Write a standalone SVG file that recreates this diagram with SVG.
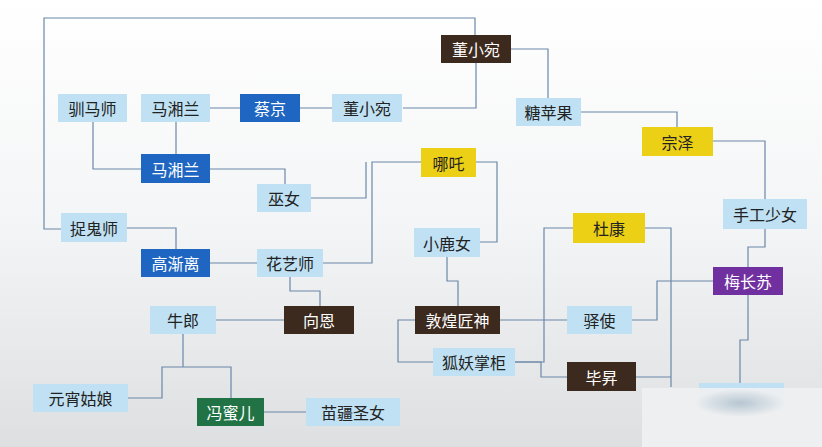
<svg xmlns="http://www.w3.org/2000/svg" width="822" height="447" viewBox="0 0 822 447">
<defs>
<linearGradient id="bg" x1="0" y1="0" x2="0" y2="1"><stop offset="0" stop-color="#ffffff"/><stop offset="0.5" stop-color="#f4f5f6"/><stop offset="1" stop-color="#dedfe0"/></linearGradient>
<radialGradient id="wm" cx="0.5" cy="0.5" r="0.5"><stop offset="0" stop-color="#eeeff0"/><stop offset="0.7" stop-color="#eeeff0" stop-opacity="0.9"/><stop offset="1" stop-color="#eeeff0" stop-opacity="0"/></radialGradient>
<radialGradient id="sh" cx="0.5" cy="0.5" r="0.5"><stop offset="0" stop-color="#a9bcca" stop-opacity="0.8"/><stop offset="1" stop-color="#a9bcca" stop-opacity="0"/></radialGradient>
</defs>
<style>
.c{fill:none;stroke:#6a88a8;stroke-width:1.2}
.t{font-family:"Noto Sans CJK SC",sans-serif;font-size:16px;text-anchor:middle;dominant-baseline:central}
.lb rect{fill:#bfe1f3}.lb text{fill:#222}
.bl rect{fill:#1f66c2}.bl text{fill:#fff}
.dk rect{fill:#3d2a1e}.dk text{fill:#fff}
.ye rect{fill:#ecd016}.ye text{fill:#222}
.pu rect{fill:#7030a0}.pu text{fill:#fff}
.gr rect{fill:#217346}.gr text{fill:#fff}
</style>
<rect width="822" height="447" fill="url(#bg)"/>
<g id="connectors">
<path class="c" d="M61,229H44V18H475V35"/>
<path class="c" d="M476,63V108H403"/>
<path class="c" d="M511,49H548V98"/>
<path class="c" d="M581,112H677V127"/>
<path class="c" d="M713,141H765V199"/>
<path class="c" d="M765,229V247H748V267"/>
<path class="c" d="M748,295V340H740V383"/>
<path class="c" d="M713,281H657V320H632"/>
<path class="c" d="M567,320H500"/>
<path class="c" d="M415,320H398V362H433"/>
<path class="c" d="M480,242H497V162H476"/>
<path class="c" d="M447,257V281H458V306"/>
<path class="c" d="M421,162H372V263H323"/>
<path class="c" d="M311,198H366V162"/>
<path class="c" d="M210,169H285V184"/>
<path class="c" d="M93,122V169H141"/>
<path class="c" d="M210,108H240M300,108H332"/>
<path class="c" d="M176,122V154"/>
<path class="c" d="M127,228H176V249"/>
<path class="c" d="M210,263H257"/>
<path class="c" d="M290,277V291H320V306"/>
<path class="c" d="M216,320H284"/>
<path class="c" d="M183,334V367H162V398H128M183,367H231V398"/>
<path class="c" d="M264,412H306"/>
<path class="c" d="M573,228H544V362H515"/>
<path class="c" d="M515,362H541V377H567"/>
<path class="c" d="M636,377H671V387M645,228H671V387"/>
</g>
<g id="n1" class="dk"><rect x="441" y="35" width="70" height="28"/><text class="t" x="476" y="49">董小宛</text></g>
<g id="n2" class="lb"><rect x="58" y="94" width="69" height="28"/><text class="t" x="92.5" y="108">驯马师</text></g>
<g id="n3" class="lb"><rect x="141" y="94" width="69" height="28"/><text class="t" x="175.5" y="108">马湘兰</text></g>
<g id="n4" class="bl"><rect x="240" y="94" width="60" height="28"/><text class="t" x="270" y="108">蔡京</text></g>
<g id="n5" class="lb"><rect x="332" y="94" width="70" height="28"/><text class="t" x="367" y="108">董小宛</text></g>
<g id="n6" class="lb"><rect x="516" y="98" width="65" height="28"/><text class="t" x="548.5" y="112">糖苹果</text></g>
<g id="n7" class="ye"><rect x="642" y="127" width="71" height="29"/><text class="t" x="677.5" y="141.5">宗泽</text></g>
<g id="n8" class="bl"><rect x="141" y="154" width="69" height="29"/><text class="t" x="175.5" y="168.5">马湘兰</text></g>
<g id="n9" class="ye"><rect x="421" y="148" width="55" height="29"/><text class="t" x="448.5" y="162.5">哪吒</text></g>
<g id="n10" class="lb"><rect x="257" y="184" width="54" height="28"/><text class="t" x="284" y="198">巫女</text></g>
<g id="n11" class="lb"><rect x="723" y="199" width="84" height="30"/><text class="t" x="765" y="214">手工少女</text></g>
<g id="n12" class="lb"><rect x="61" y="213" width="66" height="29"/><text class="t" x="94" y="227.5">捉鬼师</text></g>
<g id="n13" class="ye"><rect x="573" y="213" width="72" height="30"/><text class="t" x="609" y="228">杜康</text></g>
<g id="n14" class="lb"><rect x="414" y="228" width="66" height="29"/><text class="t" x="447" y="242.5">小鹿女</text></g>
<g id="n15" class="bl"><rect x="141" y="249" width="69" height="28"/><text class="t" x="175.5" y="263">高渐离</text></g>
<g id="n16" class="lb"><rect x="257" y="249" width="66" height="28"/><text class="t" x="290" y="263">花艺师</text></g>
<g id="n17" class="pu"><rect x="713" y="267" width="70" height="28"/><text class="t" x="748" y="281">梅长苏</text></g>
<g id="n18" class="lb"><rect x="150" y="306" width="66" height="28"/><text class="t" x="183" y="320">牛郎</text></g>
<g id="n19" class="dk"><rect x="284" y="306" width="70" height="28"/><text class="t" x="319" y="320">向恩</text></g>
<g id="n20" class="dk"><rect x="415" y="306" width="85" height="28"/><text class="t" x="457.5" y="320">敦煌匠神</text></g>
<g id="n21" class="lb"><rect x="567" y="306" width="65" height="28"/><text class="t" x="599.5" y="320">驿使</text></g>
<g id="n22" class="lb"><rect x="433" y="348" width="82" height="28"/><text class="t" x="474" y="362">狐妖掌柜</text></g>
<g id="n23" class="dk"><rect x="567" y="362" width="69" height="29"/><text class="t" x="601.5" y="376.5">毕昇</text></g>
<g id="n24" class="lb"><rect x="33" y="384" width="95" height="28"/><text class="t" x="80.5" y="398">元宵姑娘</text></g>
<g id="n25" class="gr"><rect x="197" y="398" width="67" height="28"/><text class="t" x="230.5" y="412">冯蜜儿</text></g>
<g id="n26" class="lb"><rect x="306" y="398" width="94" height="28"/><text class="t" x="353" y="412">苗疆圣女</text></g>
<g id="n27" class="lb"><rect x="699" y="383" width="85" height="28"/></g>
<rect x="642" y="388" width="180" height="59" fill="#eeeff0" opacity="0.95"/>
<ellipse cx="740" cy="403" rx="45" ry="14" fill="url(#sh)"/>
</svg>
